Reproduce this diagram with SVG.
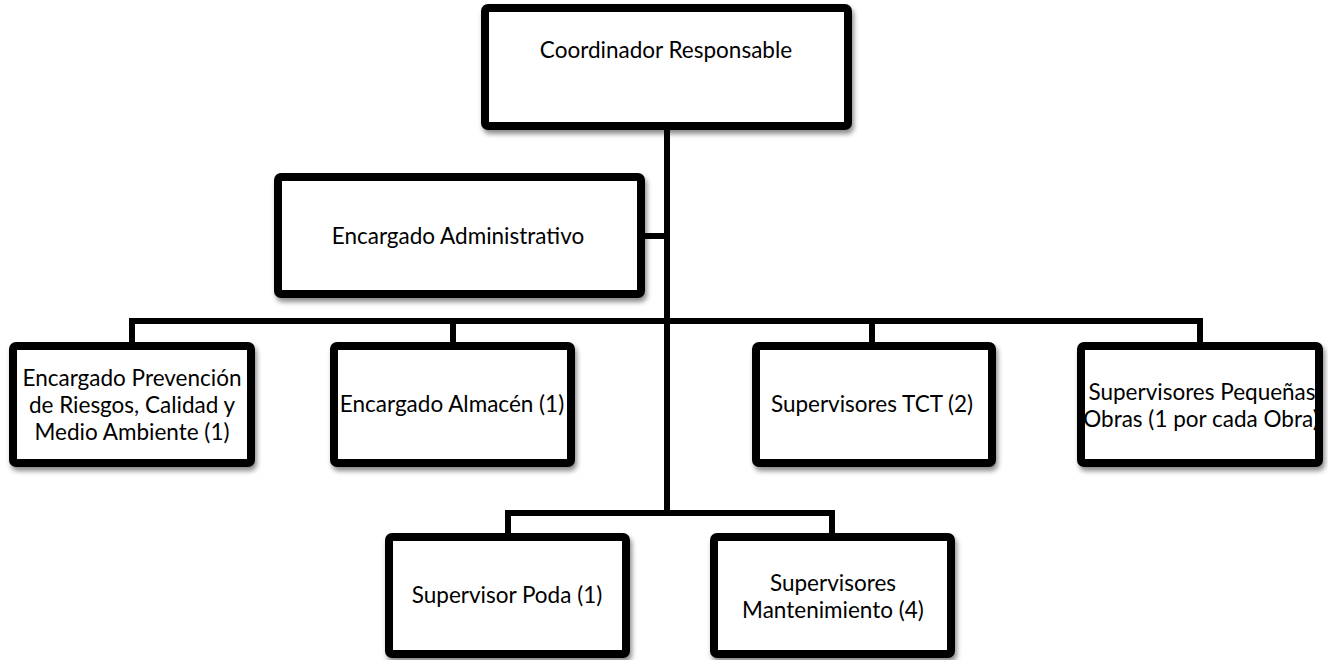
<svg xmlns="http://www.w3.org/2000/svg" width="1328" height="660" viewBox="0 0 1328 660">
<defs>
<filter id="sh" x="-10%" y="-10%" width="125%" height="130%">
<feDropShadow dx="2" dy="4" stdDeviation="2.5" flood-color="#000" flood-opacity="0.45"/>
</filter>
</defs>
<style>
.box{fill:#fff;stroke:#000;stroke-width:8;filter:url(#sh)}
.lbl{font-family:Lato,"Liberation Sans",sans-serif;font-size:22.5px;fill:#000;text-anchor:middle}
.con{fill:none;stroke:#000;stroke-width:6;stroke-linejoin:miter}
</style>
<rect width="1328" height="660" fill="#fff"/>
<g id="connectors">
<path class="con" d="M667 130 V513"/>
<path class="con" d="M645 236 H667"/>
<path class="con" d="M132 342 V321 H1200 V342"/>
<path class="con" d="M453 321 V342"/>
<path class="con" d="M872 321 V342"/>
<path class="con" d="M508 533 V513 H832 V533"/>
</g>
<g id="coordinador">
<rect class="box" x="485" y="8" width="363" height="118" rx="3"/>
<text class="lbl" x="666" y="58">Coordinador Responsable</text>
</g>
<g id="administrativo">
<rect class="box" x="278" y="177" width="363" height="117" rx="3"/>
<text class="lbl" x="458" y="244">Encargado Administrativo</text>
</g>
<g id="prevencion">
<rect class="box" x="13" y="346" width="238" height="117" rx="3"/>
<text class="lbl" x="132" y="386">Encargado Prevención</text>
<text class="lbl" x="132" y="413">de Riesgos, Calidad y</text>
<text class="lbl" x="132" y="440">Medio Ambiente (1)</text>
</g>
<g id="almacen">
<rect class="box" x="334" y="346" width="237" height="117" rx="3"/>
<text class="lbl" x="452" y="412">Encargado Almacén (1)</text>
</g>
<g id="tct">
<rect class="box" x="756" y="346" width="236" height="117" rx="3"/>
<text class="lbl" x="872" y="412">Supervisores TCT (2)</text>
</g>
<g id="pequenas">
<rect class="box" x="1081" y="346" width="238" height="117" rx="3"/>
<text class="lbl" x="1202" y="400">Supervisores Pequeñas</text>
<text class="lbl" x="1201" y="427">Obras (1 por cada Obra)</text>
</g>
<g id="poda">
<rect class="box" x="389" y="537" width="237" height="117" rx="3"/>
<text class="lbl" x="507" y="603">Supervisor Poda (1)</text>
</g>
<g id="mantenimiento">
<rect class="box" x="714" y="537" width="237" height="117" rx="3"/>
<text class="lbl" x="833" y="591">Supervisores</text>
<text class="lbl" x="833" y="618">Mantenimiento (4)</text>
</g>
</svg>
